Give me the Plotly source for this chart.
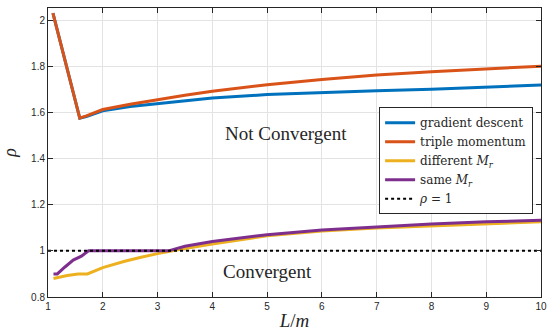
import plotly.graph_objects as go

# ---- data ----
gd_x = [1.09, 1.58, 1.7, 2.0, 2.5, 3.0, 3.5, 4.0, 5.0, 6.0, 7.0, 8.0, 9.0, 10.0]
gd_y = [2.03, 1.575, 1.582, 1.607, 1.625, 1.638, 1.651, 1.662, 1.677, 1.686, 1.693, 1.700, 1.709, 1.718]

tm_x = [1.09, 1.58, 1.7, 2.0, 2.5, 3.0, 3.5, 4.0, 5.0, 6.0, 7.0, 8.0, 9.0, 10.0]
tm_y = [2.03, 1.575, 1.585, 1.612, 1.635, 1.655, 1.674, 1.691, 1.720, 1.742, 1.762, 1.776, 1.788, 1.800]

dm_x = [1.1, 1.35, 1.55, 1.72, 2.0, 2.4, 2.7, 3.0, 3.5, 4.0, 5.0, 6.0, 7.0, 8.0, 9.0, 10.0]
dm_y = [0.88, 0.893, 0.90, 0.90, 0.927, 0.955, 0.972, 0.988, 1.01, 1.03, 1.065, 1.086, 1.099, 1.109, 1.119, 1.126]

sm_x = [1.1, 1.17, 1.31, 1.46, 1.61, 1.68, 1.74, 3.2, 3.5, 4.0, 5.0, 6.0, 7.0, 8.0, 9.0, 10.0]
sm_y = [0.90, 0.90, 0.93, 0.96, 0.977, 0.99, 1.0, 1.0, 1.02, 1.04, 1.07, 1.09, 1.104, 1.116, 1.126, 1.132]

one_x = [1, 10]
one_y = [1, 1]

x_ticks = [1, 2, 3, 4, 5, 6, 7, 8, 9, 10]
y_ticks = [0.8, 1.0, 1.2, 1.4, 1.6, 1.8, 2.0]
y_tick_text = ["0.8", "1", "1.2", "1.4", "1.6", "1.8", "2"]

names = ["gradient descent", "triple momentum",
         "different <i>M</i><sub><i>r</i></sub>", "same <i>M</i><sub><i>r</i></sub>",
         "<i>ρ</i> = 1"]
colors = ["#0072BD", "#D95319", "#EDB120", "#7E2F8E", "black"]

fig = go.Figure()
series = [(gd_x, gd_y), (tm_x, tm_y), (dm_x, dm_y), (sm_x, sm_y)]
for (xs, ys), n, c in zip(series, names[:4], colors[:4]):
    fig.add_trace(go.Scatter(x=xs, y=ys, mode="lines", name=n,
                             line=dict(color=c, width=3)))
fig.add_trace(go.Scatter(x=one_x, y=one_y, mode="lines", name=names[4],
                         line=dict(color="black", width=2, dash="dot")))

SERIF = "Liberation Serif"
LEGSERIF = "DejaVu Serif"
axis_common = dict(showline=True, linecolor="#262626", linewidth=1, mirror="allticks",
                   ticks="inside", ticklen=5, tickcolor="#262626", automargin=False,
                   showgrid=True, gridcolor="#e3e3e3", gridwidth=1, zeroline=False,
                   tickfont=dict(family="Liberation Sans", size=10, color="#262626"))

fig.update_layout(
    width=552, height=331,
    margin=dict(l=48, r=11, t=8, b=34),
    paper_bgcolor="white", plot_bgcolor="white",
    font=dict(family=SERIF, color="#262626"),
    showlegend=True,
    legend=dict(x=0.984, y=0.657, xanchor="right", yanchor="top",
                bgcolor="white", bordercolor="#262626", borderwidth=1,
                font=dict(family=LEGSERIF, size=12, color="#262626"),
                tracegroupgap=0, itemwidth=30),
    xaxis=dict(range=[1, 10], tickvals=x_ticks,
               title=dict(text="<i>L</i>/<i>m</i>", font=dict(family=SERIF, size=19, color="#262626"),
                          standoff=2),
               **axis_common),
    yaxis=dict(range=[0.8, 2.052], tickvals=y_ticks, ticktext=y_tick_text,
               title=dict(text="<i>ρ</i>", font=dict(family=SERIF, size=18, color="#262626"),
                          standoff=13),
               **axis_common),
    annotations=[
        dict(x=5.34, y=1.51, xref="x", yref="y", text="Not Convergent", showarrow=False,
             font=dict(family=SERIF, size=19, color="#262626")),
        dict(x=5.0, y=0.912, xref="x", yref="y", text="Convergent", showarrow=False,
             font=dict(family=SERIF, size=19, color="#262626")),
    ],
)

fig.write_html("out.html", config={"displayModeBar": False},
               post_script="document.body.style.margin='0';document.body.style.overflow='hidden';")
